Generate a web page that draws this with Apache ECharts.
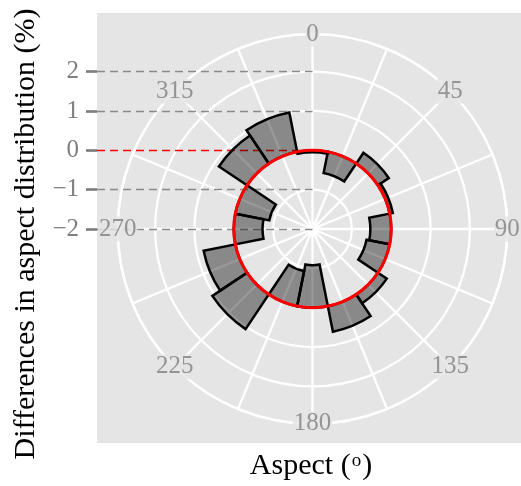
<!DOCTYPE html>
<html>
<head>
<meta charset="utf-8">
<script src="https://cdn.jsdelivr.net/npm/echarts@6/dist/echarts.min.js"></script>
<style>
  html, body { margin: 0; padding: 0; background: #ffffff; }
  #chart { width: 521px; height: 486px; }
</style>
</head>
<body>
<div id="chart"></div>
<script>
// Aspect classes (degrees, bar centres) and the difference in distribution (%)
const aspectClasses = [0, 22.5, 45, 67.5, 90, 112.5, 135, 157.5, 180, 202.5, 225, 247.5, 270, 292.5, 315, 337.5];
const aspectDiff = [-0.05, -0.55, 0.33, 0.08, -0.53, -0.60, 0.27, 0.66, -1.08, -0.91, 1.06, 0.82, -0.73, -0.88, 0.86, 1.02];

// Axis breaks
const yTicks = [-2, -1, 0, 1, 2];
const angleLabels = [0, 45, 90, 135, 180, 225, 270, 315];

// Radial scale: centre is -2, outer circle of the plot is 2.95
const rMin = -2;
const rMax = 2.95;

const CENTER = [312.5, 229];
const RADIUS = 194.8;
const UNIT = RADIUS / (rMax - rMin);

const serif = 'Liberation Serif';
const tickGrey = '#7f7f7f';
const panelBg = '#e5e5e5';
const gridWidth = 2.3;

const fmtNum = v => (v < 0 ? '\u2212' + Math.abs(v) : String(v));

const chart = echarts.init(document.getElementById('chart'), null, { renderer: 'canvas' });

const hidden = { show: false };

chart.setOption({
  animation: false,
  backgroundColor: '#ffffff',
  graphic: [
    {
      type: 'rect', z: -10, silent: true,
      shape: { x: 97, y: 13, width: 424, height: 430 },
      style: { fill: panelBg }
    },
    {
      type: 'text', z: 10,
      x: 26, y: 234, rotation: Math.PI / 2,
      style: {
        text: 'Differences in aspect distribution (%)',
        font: '30px "' + serif + '"', fill: '#000',
        align: 'center', verticalAlign: 'middle'
      }
    },
    {
      type: 'text', z: 10,
      x: 311, y: 466,
      style: {
        text: '{a|Aspect (}{s|o}{a|)}',
        align: 'center', verticalAlign: 'middle',
        rich: {
          a: { fontFamily: serif, fontSize: 30, fill: '#000', verticalAlign: 'bottom' },
          s: { fontFamily: serif, fontSize: 19, fill: '#000', verticalAlign: 'top', padding: [1, 1, 0, 1] }
        }
      }
    }
  ],
  // Cartesian grid carrying the left value axis and its dashed guide lines
  grid: [{
    left: 97,
    right: 521 - CENTER[0],
    top: CENTER[1] - (yTicks[yTicks.length - 1] - rMin) * UNIT,
    height: (yTicks[yTicks.length - 1] - rMin) * UNIT,
    containLabel: false
  }],
  xAxis: [{
    gridIndex: 0, type: 'value', min: 0, max: 1,
    show: false, splitLine: hidden
  }],
  yAxis: [{
    gridIndex: 0, type: 'value', z: 1,
    min: yTicks[0], max: yTicks[yTicks.length - 1], interval: 1,
    axisLine: hidden,
    axisTick: { show: true, length: 11, lineStyle: { color: tickGrey, width: 2.7 } },
    axisLabel: {
      margin: 18, color: tickGrey, fontFamily: serif, fontSize: 25,
      formatter: fmtNum
    },
    splitLine: {
      show: true,
      lineStyle: {
        type: [8, 5], width: 1.3,
        color: yTicks.map(v => (v === 0 ? '#ff0000' : '#8a8a8a'))
      }
    }
  }],
  polar: [
    { center: CENTER, radius: RADIUS },
    { center: CENTER, radius: RADIUS },
    { center: CENTER, radius: RADIUS }
  ],
  angleAxis: [
    // white spokes every 22.5 degrees
    {
      polarIndex: 0, type: 'value', min: 0, max: 360, interval: 22.5,
      startAngle: 90, clockwise: true, z: 0,
      axisLine: { show: true, lineStyle: { color: '#ffffff', width: gridWidth } },
      axisTick: hidden, axisLabel: hidden,
      splitLine: { show: true, lineStyle: { color: '#ffffff', width: gridWidth } }
    },
    // category axis for the bars, each class centred on its angle
    {
      polarIndex: 1, type: 'category', data: aspectClasses.map(String),
      startAngle: 90 + 180 / aspectClasses.length, clockwise: true, boundaryGap: true, z: 0,
      axisLine: hidden, axisTick: hidden, axisLabel: hidden, splitLine: hidden
    },
    {
      polarIndex: 2, type: 'value', min: 0, max: 360, startAngle: 90, z: 0,
      axisLine: hidden, axisTick: hidden, axisLabel: hidden, splitLine: hidden
    }
  ],
  radiusAxis: [
    {
      polarIndex: 0, type: 'value', min: rMin, max: rMax, interval: 1, z: 0,
      axisLine: hidden, axisTick: hidden, axisLabel: hidden,
      splitLine: { show: true, lineStyle: { color: '#ffffff', width: gridWidth } }
    },
    {
      polarIndex: 1, type: 'value', min: rMin, max: rMax, interval: 1, z: 0,
      axisLine: hidden, axisTick: hidden, axisLabel: hidden, splitLine: hidden
    },
    // red reference circle at zero difference, drawn above the bars
    {
      polarIndex: 2, type: 'value', min: rMin, max: rMax, interval: 1, z: 6,
      axisLine: hidden, axisTick: hidden, axisLabel: hidden,
      splitLine: {
        show: true,
        lineStyle: {
          width: 3,
          color: [-2, -1, 0, 1, 2, rMax].map(v => (v === 0 ? '#ff0000' : 'rgba(0,0,0,0)'))
        }
      }
    }
  ],
  series: [
    {
      type: 'bar', coordinateSystem: 'polar', polarIndex: 1, z: 3,
      data: aspectDiff,
      barCategoryGap: '0%',
      itemStyle: { color: 'rgba(0,0,0,0.4)', borderColor: '#000000', borderWidth: 2.5 }
    },
    {
      type: 'scatter', coordinateSystem: 'polar', polarIndex: 0, z: 4,
      symbolSize: 0, silent: true,
      data: angleLabels.map(a => [rMax, a]),
      label: {
        show: true, position: 'inside',
        formatter: p => String(p.value[1]),
        color: tickGrey, fontFamily: serif, fontSize: 25,
        backgroundColor: panelBg, padding: [0, 1]
      }
    }
  ]
});
</script>
</body>
</html>
